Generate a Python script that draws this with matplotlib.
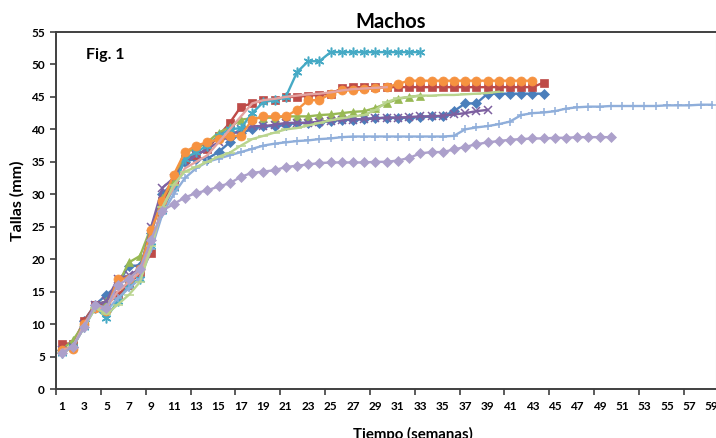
import numpy as np
import matplotlib.pyplot as plt
from matplotlib.ticker import FixedLocator, NullFormatter

# Tallas (mm) por semana, una lista por ejemplar (semana 1 en adelante)
blue_diamond = [6, 6.5, 10.5, 13, 14.5, 16, 19, 19, 24, 30, 32,
                35, 35.5, 35.5, 36.5, 38, 39.5, 40, 40.5, 40.5, 40.7, 41, 41, 41,
                41.3, 41.5, 41.5, 41.6, 41.7, 41.8, 41.8, 41.8, 41.9, 42, 42,
                42.8, 44, 44, 45.5, 45.5, 45.5, 45.5, 45.5, 45.5]
red_square = [7, 7, 10.5, 13, 13, 14.5, 16, 18, 21, 29, 31.5,
              35.5, 36, 37, 39, 41, 43.5, 44, 44.5, 44.5,
              45, 45, 45.2, 45.3, 45.5,
              46.3] + [46.5] * 17 + [47.2]
green_triangle = [6, 7.5, 10, 13, 13.5, 16, 19.5, 20.5, 25, 29.5, 32,
                  36.5, 37, 38, 39.5, 40.3,
                  41.5, 41.7, 41.8, 41.8, 42, 42, 42, 42.2, 42.3,
                  42.5, 42.7, 42.8, 43.3, 44, 44.7, 45, 45.2]
purple_x = [6, 6.5, 10, 13, 13.5, 17, 17.5, 18.5, 25, 31, 32.5,
            35, 36, 37, 38, 39, 40, 40.5, 40.5,
            40.7, 41, 41, 41, 41.2, 41.3, 41.5, 41.5, 41.6, 41.7,
            41.8, 41.8, 41.9, 42, 42, 42.1, 42.3, 42.5, 42.8, 43]
cyan_star = [5.5, 6.5, 9.5, 12.5, 11, 13.5, 16, 17, 22, 27.5, 31,
             35.5, 36.5, 37.5, 39, 40, 40.2,
             42.5, 44.2, 44.5, 45, 48.8, 50.5, 50.5] + [51.9] * 9
orange_circle = [6, 6.2, 10, 12.5, 12, 17, 17, 18.5, 24.5, 29, 33,
                 36.5, 37.5, 38, 38.5, 39, 39,
                 41.5, 42, 42, 42, 43, 44.5, 44.5,
                 45.5, 46, 46, 46.2, 46.3, 46.5, 47] + [47.5] * 12
lightblue_plus = [5.5, 6.5, 9.5, 12.5, 12, 14, 15.5, 17, 21.5, 27, 30,
                  32.5, 34, 35, 35.5, 36, 36.5, 37, 37.5, 37.8, 38, 38.2, 38.3, 38.5, 38.6,
                  38.8, 38.9, 38.9, 38.9, 38.9, 38.9, 38.9, 38.9, 38.9, 38.9, 39,
                  40, 40.3, 40.5, 40.8, 41.2, 42.2, 42.5, 42.6, 42.8, 43.2, 43.4, 43.5,
                  43.5, 43.6, 43.6, 43.6, 43.6, 43.6, 43.7, 43.7, 43.7, 43.8, 43.8]
pink_line = [6, 6.5, 10, 12.5, 12.5, 15, 16.5, 18, 22, 28, 31,
             34, 35, 36, 38, 40, 42, 44, 44.5, 44.7,
             45, 45.2, 45.4, 45.5, 45.7, 46, 46.2, 46.3, 46.4, 46.5]
lightgreen_dash = [5.5, 6.5, 9.5, 12.5, 11.5, 13, 14.5, 16.5, 22, 28, 31.5,
                   33.5, 34.2, 35, 35.8, 36.4, 37.5, 38.5, 39, 39.5,
                   40, 40.2, 40.6, 41, 41.4, 41.7, 42, 42.2, 43, 44.2,
                   44.8, 45, 45.2, 45.2, 45.3, 45.3, 45.4, 45.5, 45.6, 45.8]
lilac_diamond = [5.5, 6.5, 9.5, 13, 12.5, 16, 17, 18.5, 23, 27.5, 28.5,
                 29.5, 30.2, 30.6, 31.2, 31.7, 32.7, 33.3, 33.5, 33.7, 34.2, 34.4,
                 34.6, 34.8, 34.9, 34.9, 34.9, 34.9, 35, 35, 35.2, 35.6, 36.3,
                 36.5, 36.5, 36.9, 37.3, 37.7, 38, 38.2, 38.4, 38.5, 38.6, 38.6,
                 38.7, 38.7, 38.8, 38.8, 38.8, 38.8]

week_labels = list(range(1, 60, 2))
y_ticks = list(range(0, 56, 5))

ASTERISK = (6, 2, 0)
SERIES = [
    (blue_diamond, "#4A7EBB", "D", 5),
    (red_square, "#BE4B48", "s", 5.5),
    (green_triangle, "#98B954", "^", 6),
    (purple_x, "#7D60A0", "x", 5.5),
    (cyan_star, "#46AAC5", ASTERISK, 7),
    (orange_circle, "#F69240", "o", 6.5),
    (lightblue_plus, "#8FAEDA", "+", 6),
    (pink_line, "#E3A3A1", None, 0),
    (lightgreen_dash, "#B9D48E", "_", 7),
    (lilac_diamond, "#ACA0CB", "D", 5),
]


def main():
    plt.rcParams["font.family"] = ["Lato", "DejaVu Sans"]
    plt.rcParams["font.weight"] = "bold"
    fig = plt.figure(figsize=(7.16, 4.38), dpi=100)
    ax = fig.add_axes([56 / 716, 1 - 389 / 438, 660 / 716, 357 / 438])

    for values, colour, marker, msize in SERIES:
        weeks = np.arange(1, len(values) + 1)
        ax.plot(weeks, values, color=colour, lw=1.7, marker=marker,
                ms=msize, mew=1.1 if marker in ("x", "+", "_", ASTERISK) else 0.5,
                mec=colour, mfc=colour, clip_on=False)

    ax.set_xlim(0.5, 59.38)
    ax.set_ylim(0, 55)

    ax.xaxis.set_major_locator(FixedLocator(week_labels))
    ax.set_xticklabels([str(w) for w in week_labels])
    ax.xaxis.set_minor_locator(FixedLocator(np.arange(0.5, 60, 4)))
    ax.xaxis.set_minor_formatter(NullFormatter())
    ax.tick_params(axis="x", which="major", length=0, pad=9, labelsize=8.5)
    ax.tick_params(axis="x", which="minor", length=4, width=1.2, color="#404040")
    ax.set_yticks(y_ticks)
    ax.tick_params(axis="y", length=4, width=1.2, color="#404040", pad=4, labelsize=8.5)

    for side in ("left", "bottom", "top"):
        ax.spines[side].set_color("#404040")
        ax.spines[side].set_linewidth(1.4)
    ax.spines["right"].set_color("#d8d8d8")
    ax.spines["right"].set_linewidth(0.8)

    fig.text(391 / 716, 1 - 22 / 438, "Machos", ha="center", va="center",
             fontsize=14.5, fontweight="bold")
    fig.text(86 / 716, 1 - 55 / 438, "Fig. 1", ha="left", va="center",
             fontsize=11.5, fontweight="bold")
    fig.text(17 / 716, 1 - 201 / 438, "Tallas (mm)", ha="center", va="center",
             rotation=90, fontsize=11.5, fontweight="bold")
    fig.text(413 / 716, 1 - 434 / 438, "Tiempo (semanas)", ha="center",
             va="center", fontsize=10.8, fontweight="bold")

    fig.savefig("out.png", dpi=100)


if __name__ == "__main__":
    main()
